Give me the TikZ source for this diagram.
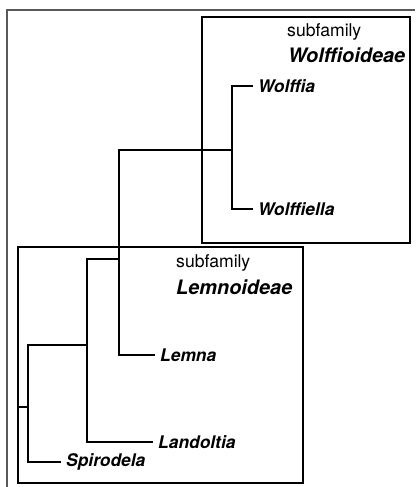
\documentclass[tikz,border=0pt]{standalone}
\usepackage{fontspec}
\setmainfont{TeX Gyre Heros}
\begin{document}
\begin{tikzpicture}[x=1pt,y=-1pt,
  branch/.style={draw=black,line width=1.3pt},
  cladebox/.style={draw=black,line width=1.6pt},
  leaf/.style={anchor=west,inner xsep=5pt,inner ysep=0pt,
    font=\fontsize{17.4}{19}\selectfont\bfseries\itshape},
  subfam/.style={anchor=west,inner sep=0pt,font=\fontsize{17.6}{19}\selectfont},
  taxon/.style={anchor=west,inner sep=0pt,font=\fontsize{19.9}{22}\selectfont\bfseries\itshape}]
  % page and outer frame
  \fill[white] (0,0) rectangle (415,487);
  \useasboundingbox (0,0) rectangle (415,487);
  \draw[line width=1.4pt,draw=black!65] (7,487) -- (7,10) -- (415,10);

  % subfamily boxes
  \draw[cladebox] (202,17) rectangle (410,243);
  \draw[cladebox] (18,247) rectangle (303,483);
  \node[subfam] (wsub) at (287,32) {subfamily};
  \node[taxon] (wname) at (288,55) {Wolffioideae};
  \node[subfam] (lsub) at (176,263) {subfamily};
  \node[taxon] (lname) at (176,287) {Lemnoideae};

  % leaves
  \node[leaf] (wolffia) at (253,86) {Wolffia};
  \node[leaf] (wolffiella) at (253,209) {Wolffiella};
  \node[leaf] (lemna) at (155,355) {Lemna};
  \node[leaf] (landoltia) at (153,442) {Landoltia};
  \node[leaf] (spirodela) at (61,462) {Spirodela};

  % internal nodes of the tree
  \coordinate (root) at (18,407);
  \coordinate (n1) at (28,407);
  \coordinate (n2) at (87,345);
  \coordinate (n3) at (119,259);
  \coordinate (n4) at (232,150);

  % branches
  \draw[branch] (root) -- (n1);
  \draw[branch] (n1) |- (n2);
  \draw[branch] (n1) |- (spirodela.west);
  \draw[branch] (n2) |- (n3);
  \draw[branch] (n2) |- (landoltia.west);
  \draw[branch] (n3) |- (n4);
  \draw[branch] (n3) |- (lemna.west);
  \draw[branch] (n4) |- (wolffia.west);
  \draw[branch] (n4) |- (wolffiella.west);
\end{tikzpicture}
\end{document}
